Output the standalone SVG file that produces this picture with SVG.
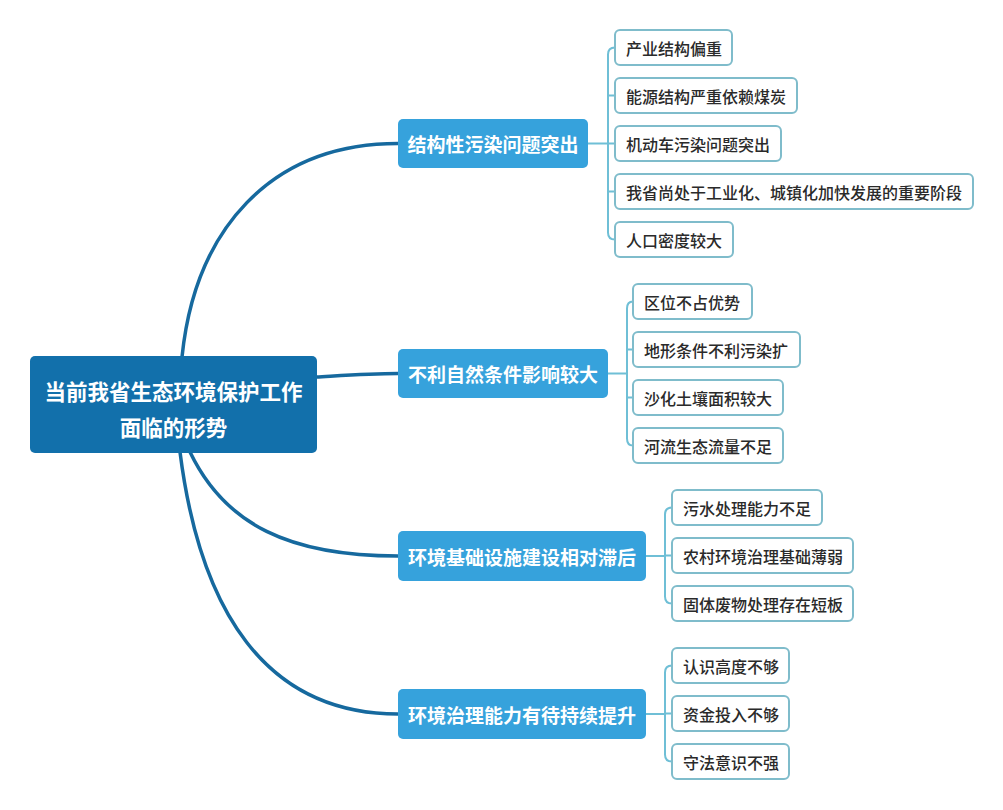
<svg xmlns="http://www.w3.org/2000/svg" width="1003" height="810" viewBox="0 0 1003 810">
<style>
.root{fill:#1270ab}
.br{fill:#36a2dc}
.leaf{fill:#ffffff;stroke:#7fbccb;stroke-width:2}
.rt{font-family:"Noto Sans CJK SC","Noto Sans",sans-serif;font-weight:bold;font-size:21.5px;fill:#ffffff;text-anchor:middle;dominant-baseline:central}
.bt{font-family:"Noto Sans CJK SC","Noto Sans",sans-serif;font-weight:bold;font-size:19px;fill:#ffffff;text-anchor:middle;dominant-baseline:central}
.lt{font-family:"Noto Sans CJK SC","Noto Sans",sans-serif;font-weight:500;font-size:16px;fill:#2a2a2a;dominant-baseline:central}
.main{fill:none;stroke:#16699e;stroke-width:3.5;stroke-linecap:round}
.brk{fill:none;stroke:#6fbfd6;stroke-width:2}
</style>
<rect width="1003" height="810" fill="#ffffff"/>
<g id="connectors">
<path class="main" d="M182 357 C195 230 270 143.5 398 143.5"/>
<path class="main" d="M316 377 C350 375 370 373.5 398 373.5"/>
<path class="main" d="M190 452 C225 525 290 556 398 556"/>
<path class="main" d="M180 452 C200 610 265 714 398 714"/>
<path class="brk" d="M588 143.5 H608 M615 47.5 Q608 47.5 608 54.5 V232.5 Q608 239.5 615 239.5 M608 95.5 H615 M608 143.5 H615 M608 191.5 H615"/>
<path class="brk" d="M608 373.5 H627 M633 301.5 Q627 301.5 627 308.5 V438.5 Q627 445.5 633 445.5 M627 349.5 H633 M627 397.5 H633"/>
<path class="brk" d="M646 556 H665 M672 507.5 Q665 507.5 665 514.5 V596.5 Q665 603.5 672 603.5 M665 555.5 H672"/>
<path class="brk" d="M646 714 H665 M672 665.5 Q665 665.5 665 672.5 V754.5 Q665 761.5 672 761.5 M665 713.5 H672"/>
</g>
<g id="root">
<rect class="root" x="30" y="356" width="287" height="97" rx="5"/>
<text class="rt" x="173.5" y="390">当前我省生态环境保护工作</text>
<text class="rt" x="173.5" y="426">面临的形势</text>
</g>
<g id="b1">
<rect class="br" x="398" y="119" width="190" height="49" rx="5"/>
<text class="bt" x="493" y="143.5">结构性污染问题突出</text>
</g>
<g id="b2">
<rect class="br" x="398" y="349" width="210" height="49" rx="5"/>
<text class="bt" x="503" y="373.5">不利自然条件影响较大</text>
</g>
<g id="b3">
<rect class="br" x="398" y="531" width="248" height="50" rx="5"/>
<text class="bt" x="522" y="556">环境基础设施建设相对滞后</text>
</g>
<g id="b4">
<rect class="br" x="398" y="689" width="248" height="50" rx="5"/>
<text class="bt" x="522" y="714">环境治理能力有待持续提升</text>
</g>
<g id="l1a"><rect class="leaf" x="615" y="30" width="117" height="35" rx="5"/><text class="lt" x="626" y="47.5">产业结构偏重</text></g>
<g id="l1b"><rect class="leaf" x="615" y="78" width="182" height="35" rx="5"/><text class="lt" x="626" y="95.5">能源结构严重依赖煤炭</text></g>
<g id="l1c"><rect class="leaf" x="615" y="126" width="166" height="35" rx="5"/><text class="lt" x="626" y="143.5">机动车污染问题突出</text></g>
<g id="l1d"><rect class="leaf" x="615" y="174" width="358" height="35" rx="5"/><text class="lt" x="626" y="191.5">我省尚处于工业化、城镇化加快发展的重要阶段</text></g>
<g id="l1e"><rect class="leaf" x="615" y="222" width="118" height="35" rx="5"/><text class="lt" x="626" y="239.5">人口密度较大</text></g>
<g id="l2a"><rect class="leaf" x="633" y="284" width="119" height="35" rx="5"/><text class="lt" x="644" y="301.5">区位不占优势</text></g>
<g id="l2b"><rect class="leaf" x="633" y="332" width="167" height="35" rx="5"/><text class="lt" x="644" y="349.5">地形条件不利污染扩</text></g>
<g id="l2c"><rect class="leaf" x="633" y="380" width="150" height="35" rx="5"/><text class="lt" x="644" y="397.5">沙化土壤面积较大</text></g>
<g id="l2d"><rect class="leaf" x="633" y="428" width="150" height="35" rx="5"/><text class="lt" x="644" y="445.5">河流生态流量不足</text></g>
<g id="l3a"><rect class="leaf" x="672" y="490" width="150" height="35" rx="5"/><text class="lt" x="683" y="507.5">污水处理能力不足</text></g>
<g id="l3b"><rect class="leaf" x="672" y="538" width="181" height="35" rx="5"/><text class="lt" x="683" y="555.5">农村环境治理基础薄弱</text></g>
<g id="l3c"><rect class="leaf" x="672" y="586" width="181" height="35" rx="5"/><text class="lt" x="683" y="603.5">固体废物处理存在短板</text></g>
<g id="l4a"><rect class="leaf" x="672" y="648" width="117" height="35" rx="5"/><text class="lt" x="683" y="665.5">认识高度不够</text></g>
<g id="l4b"><rect class="leaf" x="672" y="696" width="117" height="35" rx="5"/><text class="lt" x="683" y="713.5">资金投入不够</text></g>
<g id="l4c"><rect class="leaf" x="672" y="744" width="117" height="35" rx="5"/><text class="lt" x="683" y="761.5">守法意识不强</text></g>
</svg>
